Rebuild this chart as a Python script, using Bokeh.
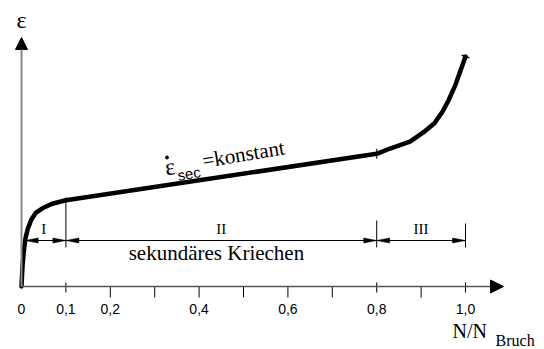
import numpy as np
from bokeh.plotting import figure
from bokeh.models import Range1d, Arrow, NormalHead
from bokeh.core.properties import value
from bokeh.embed import file_html
from bokeh.resources import INLINE

# Creep curve: strain over relative load cycles N/N_Bruch
n_ratio = [0, 0.002, 0.005, 0.009, 0.014, 0.022, 0.032, 0.047, 0.069, 0.1,
           0.8, 0.83, 0.875, 0.905, 0.93, 0.948, 0.962, 0.978, 0.989, 1.0]
strain = [0, 0.08, 0.15, 0.21, 0.25, 0.29, 0.32, 0.34, 0.36, 0.375,
          0.577, 0.6, 0.63, 0.67, 0.71, 0.76, 0.81, 0.88, 0.94, 1.0]

# x axis ticks and labels
tick_values = [0.2, 0.3, 0.4, 0.5, 0.6, 0.7, 0.9]
marked_ticks = [0.1, 0.8, 1.0]
label_values = [0, 0.1, 0.2, 0.4, 0.6, 0.8, 1.0]
label_texts = ["0", "0,1", "0,2", "0,4", "0,6", "0,8", "1,0"]

# creep phases
phase_bounds = [0, 0.1, 0.8, 1.0]
phase_names = ["I", "II", "III"]
phase_guide_top = [0.387, 0.287, 0.274]

W, H = 544, 349
X0, X1 = -0.0473, 1.1779
Y0, Y1 = -0.2739, 1.2435
SX = W / (X1 - X0)   # pixels per unit, x
SY = H / (Y1 - Y0)   # pixels per unit, y
LIFT = 7 / SY        # raise text so the glyph baseline sits where intended

SERIF = value("Liberation Serif")
SANS = value("Liberation Sans")

p = figure(width=W, height=H, x_range=Range1d(X0, X1), y_range=Range1d(Y0, Y1),
           x_axis_type=None, y_axis_type=None, toolbar_location=None,
           output_backend="svg", min_border=0, min_border_left=0,
           min_border_right=0, min_border_top=0, min_border_bottom=0)
p.outline_line_color = None
p.grid.visible = False
p.background_fill_color = "white"
p.border_fill_color = "white"

# axes with arrow heads
p.add_layout(Arrow(end=NormalHead(size=13, fill_color="black", line_color="black", line_width=1),
                   x_start=0, y_start=0, x_end=1.0856, y_end=0,
                   line_color="#555555", line_width=1.5))
p.add_layout(Arrow(end=NormalHead(size=12, fill_color="black", line_color="black", line_width=1),
                   x_start=0, y_start=0, x_end=0, y_end=1.0826,
                   line_color="#888888", line_width=2))

# ticks below the axis
p.segment(x0=tick_values, y0=[0] * len(tick_values), x1=tick_values,
          y1=[-11 / SY] * len(tick_values), line_color="black", line_width=1)
# phase boundary ticks crossing the axis
p.segment(x0=marked_ticks, y0=[4 / SY] * 3, x1=marked_ticks, y1=[-6 / SY] * 3,
          line_color="black", line_width=1)

p.text(x=label_values, y=[-29 / SY + LIFT] * len(label_values), text=label_texts,
       text_font=SANS, text_font_size="14px", text_align="center",
       text_baseline="alphabetic", text_color="black")

# creep curve
p.line(n_ratio, strain, line_color="black", line_width=4.5,
       line_join="round", line_cap="round")

# marks on the curve at 0.8 and at the end
y08 = float(np.interp(0.8, n_ratio, strain))
p.segment(x0=[0.8], y0=[y08 + 5 / SY], x1=[0.8], y1=[y08 - 5 / SY],
          line_color="black", line_width=1)
dxp = (n_ratio[-1] - n_ratio[-2]) * SX
dyp = (strain[-1] - strain[-2]) * SY
ln = np.hypot(dxp, dyp)
ux, uy = -dyp / ln * 4, dxp / ln * 4
p.segment(x0=[n_ratio[-1] + ux / SX], y0=[strain[-1] + uy / SY],
          x1=[n_ratio[-1] - ux / SX], y1=[strain[-1] - uy / SY],
          line_color="black", line_width=1.5)

# dimension line for the creep phases
dim_y = 46 / SY
dim_start = float(np.interp(dim_y, strain, n_ratio))
p.segment(x0=[dim_start], y0=[dim_y], x1=[phase_bounds[-1]], y1=[dim_y],
          line_color="black", line_width=1)
guide_x = phase_bounds[1:]
p.segment(x0=guide_x, y0=phase_guide_top, x1=guide_x,
          y1=[39 / SY] * len(guide_x), line_color="black", line_width=1)

L, hw = 13 / SX, 2.5 / SY
xs, ys = [], []
seg_starts = [dim_start] + phase_bounds[1:-1]
for a, b in zip(seg_starts, phase_bounds[1:]):
    xs.append([a, a + L, a + L]); ys.append([dim_y, dim_y + hw, dim_y - hw])
    xs.append([b, b - L, b - L]); ys.append([dim_y, dim_y + hw, dim_y - hw])
p.patches(xs, ys, fill_color="black", line_color="black", line_width=0.5)

mids = [(a + b) / 2 for a, b in zip(phase_bounds[:-1], phase_bounds[1:])]
p.text(x=mids, y=[51 / SY + LIFT] * 3, text=phase_names, text_font=SERIF,
       text_font_size="15px", text_align="center", text_baseline="alphabetic",
       text_color="black")
p.text(x=[0.439], y=[27 / SY + LIFT], text=["sekundäres Kriechen"], text_font=SERIF,
       text_font_size="21px", text_align="center", text_baseline="alphabetic",
       text_color="black")

# axis titles
p.text(x=[0], y=[260 / SY + LIFT], text=["ε"], text_font=SERIF, text_font_size="24px",
       text_align="center", text_baseline="alphabetic", text_color="black")
p.text(x=[0.9707], y=[-51 / SY + LIFT], text=["N/N"], text_font=SERIF,
       text_font_size="20px", text_align="left", text_baseline="alphabetic",
       text_color="black")
p.text(x=[1.0676], y=[-61 / SY + LIFT], text=["Bruch"], text_font=SERIF,
       text_font_size="16px", text_align="left", text_baseline="alphabetic",
       text_color="black")

# secondary creep rate label along the curve
theta = np.deg2rad(9.5)
p.text(x=[0.3230], y=[0.4826 + 8 / SY], text=["ε"], text_font=SERIF,
       text_font_size="24px", angle=theta, text_align="left",
       text_baseline="alphabetic", text_color="black")
p.scatter(x=[0.3277], y=[0.5609], size=3, marker="circle", color="black")
p.text(x=[0.3514], y=[0.4522 + LIFT], text=["sec"], text_font=SANS,
       text_font_size="15px", angle=theta, text_align="left",
       text_baseline="alphabetic", text_color="black")
p.text(x=[0.4077], y=[0.5326 + 3 / SY], text=["=konstant"], text_font=SERIF,
       text_font_size="21px", angle=theta, text_align="left",
       text_baseline="alphabetic", text_color="black")

open("out.html", "w").write(file_html(p, INLINE))
